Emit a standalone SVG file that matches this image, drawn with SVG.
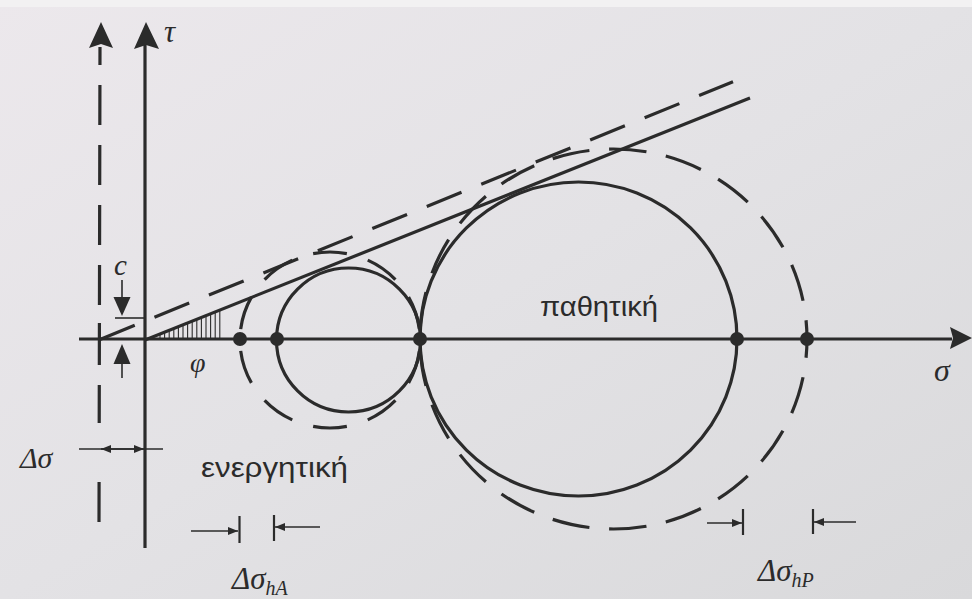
<svg xmlns="http://www.w3.org/2000/svg" width="972" height="599" viewBox="0 0 972 599">
<defs>
<linearGradient id="bg" x1="0" y1="0" x2="1" y2="1">
<stop offset="0" stop-color="#ece8ec"/>
<stop offset="0.5" stop-color="#e3e2e5"/>
<stop offset="1" stop-color="#d9d9db"/>
</linearGradient>
<marker id="ah" viewBox="0 0 10 8" refX="10" refY="4" markerWidth="10" markerHeight="8" markerUnits="userSpaceOnUse" orient="auto">
<path d="M0,0 L10,4 L0,8 Z" fill="#2b2b2b"/>
</marker>
</defs>
<style>
.ln{stroke:#2b2b2b;stroke-width:3.2;fill:none}
.th{stroke:#2b2b2b;stroke-width:1.6;fill:none}
.hat{stroke:#2b2b2b;stroke-width:1.1}
.fill{fill:#2b2b2b}
.it{font-family:"Liberation Serif","DejaVu Serif",serif;font-style:italic;fill:#2b2b2b}
.sans{font-family:"Liberation Sans",Arial,sans-serif;fill:#2b2b2b}
</style>
<rect x="0" y="0" width="972" height="599" fill="url(#bg)"/>
<rect x="0" y="0" width="972" height="7" fill="#f2f1f2"/>

<g id="axes">
<line class="ln" x1="79" y1="339" x2="952" y2="339"/>
<path class="fill" d="M972,338 L950,327 L953,338 L950,349 Z"/>
<line class="ln" x1="145" y1="45" x2="145" y2="548"/>
<path class="fill" d="M146,22 L134,49 L146,45 L159,49 Z"/>
<path class="fill" d="M101,22 L89,48 L101,44 L113,48 Z"/>
<line class="ln" x1="100" y1="44" x2="99" y2="523" stroke-dasharray="0 3 18 20 40 20 40 20 40 20 40 18 42 20 38 59 40 21 40"/>
</g>

<g id="circles">
<circle id="small-solid" class="ln" cx="348.5" cy="340" r="72"/>
<ellipse id="small-dashed" class="ln" cx="330" cy="340" rx="90" ry="88" pathLength="560" stroke-dasharray="34 22" stroke-dashoffset="45"/>
<ellipse id="large-solid" class="ln" cx="578.5" cy="339" rx="158.5" ry="157"/>
<ellipse id="large-dashed" class="ln" cx="613.5" cy="339" rx="193.5" ry="190" pathLength="1218" stroke-dasharray="38 20" stroke-dashoffset="19"/>
</g>

<g id="points">
<circle class="fill" cx="240" cy="339" r="7"/>
<circle class="fill" cx="277" cy="339" r="7"/>
<circle class="fill" cx="420" cy="339" r="7"/>
<circle class="fill" cx="737" cy="339" r="7"/>
<circle class="fill" cx="807" cy="339" r="7"/>
</g>

<g id="connectors">
<line id="envelope-solid" class="ln" x1="145" y1="340" x2="750" y2="98"/>
<line id="envelope-dashed" class="ln" x1="100" y1="339.4" x2="733" y2="81.8" stroke-dasharray="37.5 21.3"/>
<g id="hatch">
<line class="hat" x1="160" y1="339" x2="160" y2="334"/>
<line class="hat" x1="164.6" y1="339" x2="164.6" y2="332.2"/>
<line class="hat" x1="169.2" y1="339" x2="169.2" y2="330.3"/>
<line class="hat" x1="173.8" y1="339" x2="173.8" y2="328.5"/>
<line class="hat" x1="178.4" y1="339" x2="178.4" y2="326.6"/>
<line class="hat" x1="183" y1="339" x2="183" y2="324.8"/>
<line class="hat" x1="187.6" y1="339" x2="187.6" y2="323"/>
<line class="hat" x1="192.2" y1="339" x2="192.2" y2="321.1"/>
<line class="hat" x1="196.8" y1="339" x2="196.8" y2="319.3"/>
<line class="hat" x1="201.4" y1="339" x2="201.4" y2="317.4"/>
<line class="hat" x1="206" y1="339" x2="206" y2="315.6"/>
<line class="hat" x1="210.6" y1="339" x2="210.6" y2="313.8"/>
<line class="hat" x1="215.2" y1="339" x2="215.2" y2="311.9"/>
<line class="hat" x1="219.8" y1="339" x2="219.8" y2="310.1"/>
</g>
<g id="dim-c">
<line class="th" x1="115" y1="318" x2="145" y2="318"/>
<line class="th" x1="122" y1="280" x2="122" y2="300"/>
<path class="fill" d="M113.5,297 L130.5,297 L122,316 Z"/>
<line class="th" x1="122" y1="362" x2="122" y2="378"/>
<path class="fill" d="M113.5,364 L130.5,364 L122,344 Z"/>
</g>
<g id="dim-dsigma">
<line class="th" x1="79" y1="449" x2="163" y2="449"/>
<line class="th" x1="122" y1="449" x2="101" y2="449" marker-end="url(#ah)"/>
<line class="th" x1="122" y1="449" x2="144" y2="449" marker-end="url(#ah)"/>
</g>
<g id="dim-hA">
<line class="th" x1="191" y1="531" x2="238" y2="531" marker-end="url(#ah)"/>
<line class="ln" x1="239.5" y1="516" x2="239.5" y2="543" style="stroke-width:2.2"/>
<line class="ln" x1="274" y1="515" x2="274" y2="541" style="stroke-width:2.2"/>
<line class="th" x1="320" y1="527" x2="275" y2="527" marker-end="url(#ah)"/>
</g>
<g id="dim-hP">
<line class="th" x1="707" y1="523" x2="742" y2="523" marker-end="url(#ah)"/>
<line class="ln" x1="743" y1="509" x2="743" y2="535" style="stroke-width:2.2"/>
<line class="ln" x1="813" y1="509" x2="813" y2="534" style="stroke-width:2.2"/>
<line class="th" x1="856" y1="522" x2="814" y2="522" marker-end="url(#ah)"/>
</g>
</g>

<g id="labels">
<text class="it" x="164" y="42" font-size="31">τ</text>
<text class="it" x="114" y="275" font-size="29">c</text>
<text class="it" x="190" y="372" font-size="28">φ</text>
<text class="it" x="934" y="381" font-size="32">σ</text>
<text class="it" x="20" y="468" font-size="30">Δσ</text>
<text class="sans" x="201" y="477" font-size="28" textLength="147" lengthAdjust="spacingAndGlyphs">ενεργητική</text>
<text class="sans" x="540" y="316" font-size="28" textLength="118" lengthAdjust="spacingAndGlyphs">παθητική</text>
<text class="it" x="232" y="589" font-size="31">Δσ<tspan font-size="20" dy="6">hA</tspan></text>
<text class="it" x="758" y="581" font-size="31">Δσ<tspan font-size="20" dy="6">hP</tspan></text>
</g>
</svg>
